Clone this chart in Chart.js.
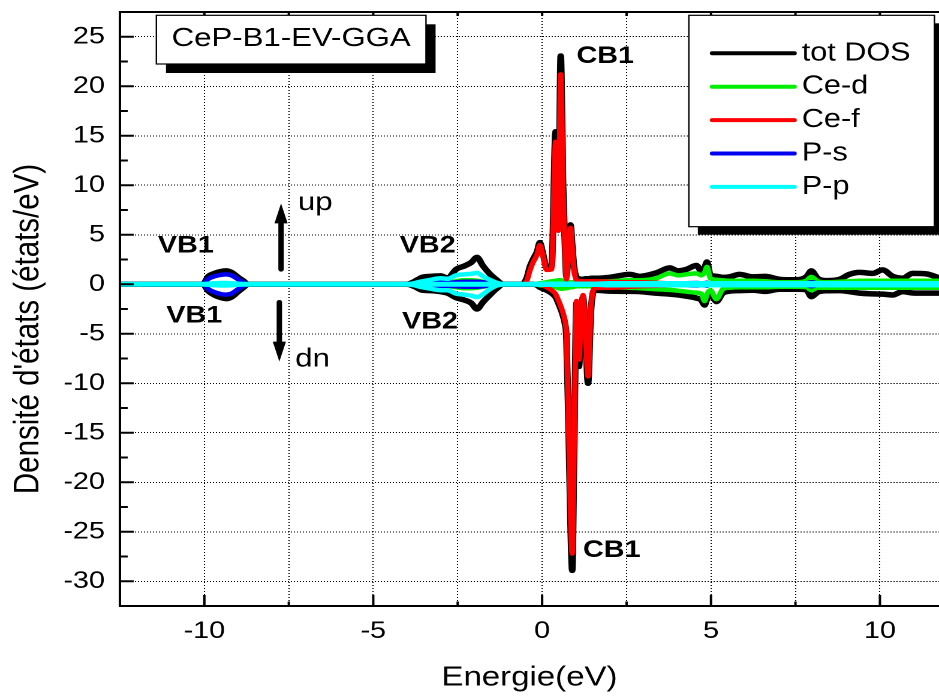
<!DOCTYPE html>
<html lang="fr">
<head>
    <meta charset="UTF-8">
    <title>CeP-B1-EV-GGA - DOS</title>
    <script src="https://cdn.jsdelivr.net/npm/chart.js"></script>
    <style>
        html, body {
            margin: 0;
            padding: 0;
            background: #fff;
            overflow: hidden;
        }
        /* the original figure is stretched sideways: draw narrower, then widen */
        #wrap {
            width: 783px;
            height: 698px;
            transform: scaleX(1.19923);
            transform-origin: 0 0;
        }
    </style>
</head>
<body>
<div id="wrap"><canvas id="dosChart" width="783" height="698"></canvas></div>
<script>
    const FONT = "'Liberation Sans', Arial, sans-serif";

    const xRange = [-12.5, 11.75];
    const yRange = [-32.5, 27.5];
    const xGridTicks = [-10, -7.5, -5, -2.5, 0, 2.5, 5, 7.5, 10];
    const xTickLabels = [-10, -5, 0, 5, 10];
    const xMinorTicks = [-7.5, -2.5, 2.5, 7.5];
    const yTicks = [-30, -25, -20, -15, -10, -5, 0, 5, 10, 15, 20, 25];
    const yMinorTicks = [-27.5, -22.5, -17.5, -12.5, -7.5, -2.5, 2.5, 7.5, 12.5, 17.5, 22.5];

    // energy mesh (eV), shared by all curves
    const energy = [
        -12.5,
        -10.05, -9.88, -9.7, -9.5, -9.35, -9.2, -9.0, -8.85, -8.7,
        -4.0, -3.8, -3.55, -3.3, -3.0, -2.8, -2.55, -2.3, -2.1, -1.93, -1.75, -1.55, -1.35, -1.15,
        -0.6, -0.46, -0.36, -0.27, -0.15, -0.07, 0.03, 0.13, 0.28, 0.40, 0.48, 0.55, 0.62, 0.67, 0.72,
        0.78, 0.84, 0.89, 0.95, 1.02, 1.09, 1.15, 1.21, 1.28, 1.36, 1.44, 1.55,
        2.0, 2.59, 2.89, 3.38, 3.78, 4.02, 4.27, 4.57, 4.71, 4.81, 4.88, 4.98, 5.16, 5.35, 5.55, 5.84,
        6.24, 6.6, 7.03, 7.52, 7.82, 7.97, 8.16, 8.41, 8.8, 9.1, 9.39, 9.79, 10.08, 10.38, 10.67,
        10.97, 11.37, 11.75
    ];

    const totUp = [
        0,
        0, 0.8, 1.1, 1.3, 1.35, 1.2, 0.7, 0.35, 0,
        0, 0.25, 0.7, 0.8, 0.85, 0.62, 1.5, 1.85, 2.2, 2.72, 1.85, 1.05, 0.45, 0,
        0, 0.6, 1.8, 2.5, 3.3, 4.2, 3.0, 1.7, 1.8, 15.4, 5.8, 23.05, 10, 4.5, 0.8,
        3.5, 6.0, 4.0, 1.6, 0.7, 0.55, 0.5, 0.5, 0.55, 0.55, 0.6, 0.6,
        0.7, 1.0, 0.8, 1.15, 1.65, 1.35, 1.5, 1.9, 1.35, 1.7, 2.25, 0.95, 0.8, 0.7, 0.75, 1.0,
        0.75, 0.8, 0.5, 0.45, 0.75, 1.35, 0.6, 0.37, 0.5, 1.0, 1.2, 1.1, 1.45, 0.8, 0.6,
        1.1, 1.05, 0.65
    ];
    const totDn = [
        0,
        0, -0.7, -1.1, -1.35, -1.45, -1.3, -0.75, -0.35, 0,
        0, -0.2, -0.6, -0.65, -0.75, -0.9, -1.35, -1.6, -1.9, -2.5, -1.8, -1.1, -0.45, 0,
        0, 0, 0, 0, -0.1, -0.3, -0.45, -0.6, -0.9, -1.3, -1.9, -2.5, -3.2, -3.9, -5.5,
        -14, -24, -28.9, -16, -1.9, -8.3, -4, -1.3, -5, -10, -3, -0.6,
        -0.7, -0.72, -0.74, -0.9, -1.0, -1.08, -1.2, -1.4, -1.6, -2.1, -1.5, -0.9, -1.75, -0.9, -0.7, -0.64,
        -0.6, -0.72, -0.5, -0.5, -0.55, -1.25, -0.8, -0.66, -0.64, -0.75, -0.9, -0.97, -1.0, -1.08, -0.74,
        -0.88, -0.9, -0.9
    ];
    const ceDUp = [
        0,
        0, 0, 0, 0, 0, 0, 0, 0, 0,
        0, 0, 0, 0.05, 0.1, 0.15, 0.3, 0.4, 0.4, 0.35, 0.25, 0.1, 0.05, 0,
        0, 0, 0, 0, 0.05, 0.1, 0.15, 0.2, 0.3, 0.35, 0.4, 0.4, 0.35, 0.3, 0.25,
        0.2, 0.2, 0.2, 0.2, 0.2, 0.2, 0.2, 0.2, 0.2, 0.2, 0.2, 0.25,
        0.3, 0.4, 0.4, 0.6, 1.1, 0.9, 1.0, 1.1, 0.9, 1.2, 1.75, 0.6, 0.45, 0.4, 0.35, 0.35,
        0.35, 0.3, 0.2, 0.2, 0.35, 0.75, 0.3, 0.2, 0.25, 0.3, 0.35, 0.35, 0.35, 0.35, 0.35,
        0.35, 0.35, 0.35
    ];
    const ceDDn = [
        0,
        0, 0, 0, 0, 0, 0, 0, 0, 0,
        0, 0, 0, -0.05, -0.1, -0.15, -0.3, -0.4, -0.4, -0.35, -0.25, -0.1, -0.05, 0,
        0, 0, 0, 0, -0.05, -0.1, -0.15, -0.2, -0.25, -0.3, -0.4, -0.45, -0.45, -0.4, -0.4,
        -0.35, -0.3, -0.3, -0.25, -0.2, -0.2, -0.2, -0.2, -0.2, -0.2, -0.2, -0.25,
        -0.3, -0.35, -0.4, -0.5, -0.57, -0.65, -0.75, -0.85, -0.95, -1.7, -1.0, -0.6, -1.5, -0.5, -0.35, -0.3,
        -0.3, -0.3, -0.25, -0.25, -0.3, -0.6, -0.35, -0.35, -0.35, -0.35, -0.35, -0.35, -0.35, -0.35, -0.35,
        -0.35, -0.35, -0.35
    ];
    const ceFUp = [
        0,
        0, 0, 0, 0, 0, 0, 0, 0, 0,
        0, 0, 0, 0, 0.05, 0.1, 0.15, 0.2, 0.2, 0.15, 0.1, 0.05, 0, 0,
        0, 0.3, 1.4, 2.2, 3.0, 3.95, 2.8, 1.45, 1.5, 14.4, 5.4, 21.2, 9.2, 4.0, 0.5,
        3.2, 5.7, 3.7, 1.3, 0.4, 0.3, 0.3, 0.3, 0.3, 0.3, 0.3, 0.3,
        0.25, 0.2, 0.2, 0.15, 0.1, 0.1, 0.1, 0.1, 0.1, 0.1, 0.1, 0.1, 0.1, 0.1, 0.1, 0.1,
        0.1, 0.1, 0.1, 0.1, 0.1, 0.1, 0.1, 0.1, 0.1, 0.1, 0.1, 0.1, 0.1, 0.1, 0.1,
        0.1, 0.1, 0.1
    ];
    const ceFDn = [
        0,
        0, 0, 0, 0, 0, 0, 0, 0, 0,
        0, 0, 0, 0, -0.05, -0.1, -0.15, -0.2, -0.2, -0.15, -0.1, -0.05, 0, 0,
        0, 0, 0, 0, 0, -0.05, -0.1, -0.3, -0.6, -1.0, -1.6, -2.2, -2.9, -3.6, -5.2,
        -13.5, -23, -27.2, -15.5, -1.7, -7.6, -3.7, -1.1, -4.7, -9.3, -2.7, -0.4,
        -0.35, -0.25, -0.2, -0.15, -0.1, -0.1, -0.1, -0.1, -0.1, -0.1, -0.1, -0.1, -0.1, -0.1, -0.1, -0.1,
        -0.1, -0.1, -0.1, -0.1, -0.1, -0.1, -0.1, -0.1, -0.1, -0.1, -0.1, -0.1, -0.1, -0.1, -0.1,
        -0.1, -0.1, -0.1
    ];
    const psUp = [
        0,
        0, 0.55, 0.8, 0.95, 1.0, 0.9, 0.5, 0.2, 0,
        0, 0, 0.05, 0.1, 0.15, 0.15, 0.2, 0.25, 0.25, 0.25, 0.2, 0.1, 0.05, 0,
        0, 0, 0, 0, 0, 0, 0, 0, 0, 0, 0, 0, 0, 0, 0,
        0, 0, 0, 0, 0, 0, 0, 0, 0, 0, 0, 0,
        0.05, 0.05, 0.05, 0.05, 0.08, 0.08, 0.1, 0.12, 0.1, 0.12, 0.15, 0.08, 0.08, 0.05, 0.05, 0.05,
        0.05, 0.05, 0.05, 0.05, 0.08, 0.2, 0.08, 0.05, 0.05, 0.05, 0.05, 0.05, 0.05, 0.05, 0.05,
        0.05, 0.05, 0.05
    ];
    const psDn = [
        0,
        0, -0.5, -0.8, -1.0, -1.05, -0.95, -0.5, -0.2, 0,
        0, 0, -0.05, -0.1, -0.15, -0.15, -0.2, -0.25, -0.25, -0.25, -0.2, -0.1, -0.05, 0,
        0, 0, 0, 0, 0, 0, 0, 0, 0, 0, 0, 0, 0, 0, 0,
        0, 0, 0, 0, 0, 0, 0, 0, 0, 0, 0, 0,
        -0.05, -0.05, -0.05, -0.05, -0.08, -0.08, -0.1, -0.12, -0.1, -0.12, -0.15, -0.08, -0.08, -0.05, -0.05, -0.05,
        -0.05, -0.05, -0.05, -0.05, -0.08, -0.2, -0.08, -0.05, -0.05, -0.05, -0.05, -0.05, -0.05, -0.05, -0.05,
        -0.05, -0.05, -0.05
    ];
    const ppUp = [
        0,
        0, 0.05, 0.1, 0.12, 0.12, 0.1, 0.05, 0, 0,
        0, 0.1, 0.3, 0.45, 0.6, 0.55, 0.9, 1.0, 1.05, 1.15, 0.8, 0.45, 0.15, 0,
        0, 0, 0, 0, 0, 0.05, 0.05, 0.05, 0.05, 0.05, 0.05, 0.05, 0.05, 0.05, 0.05,
        0.05, 0.05, 0.05, 0.05, 0.05, 0.05, 0.05, 0.05, 0.05, 0.05, 0.05, 0.05,
        0.1, 0.1, 0.1, 0.1, 0.1, 0.1, 0.1, 0.1, 0.1, 0.1, 0.1, 0.1, 0.1, 0.1, 0.1, 0.1,
        0.1, 0.1, 0.1, 0.1, 0.1, 0.1, 0.1, 0.1, 0.1, 0.1, 0.1, 0.1, 0.1, 0.1, 0.1,
        0.1, 0.1, 0.1
    ];
    const ppDn = [
        0,
        0, -0.05, -0.1, -0.12, -0.12, -0.1, -0.05, 0, 0,
        0, -0.1, -0.3, -0.45, -0.6, -0.6, -0.95, -1.05, -1.15, -1.3, -1.0, -0.5, -0.15, 0,
        0, 0, 0, 0, 0, -0.05, -0.05, -0.05, -0.05, -0.05, -0.05, -0.05, -0.05, -0.05, -0.05,
        -0.05, -0.05, -0.05, -0.05, -0.05, -0.05, -0.05, -0.05, -0.05, -0.05, -0.05, -0.05,
        -0.1, -0.1, -0.1, -0.1, -0.1, -0.1, -0.1, -0.1, -0.1, -0.1, -0.1, -0.1, -0.1, -0.1, -0.1, -0.1,
        -0.1, -0.1, -0.1, -0.1, -0.1, -0.1, -0.1, -0.1, -0.1, -0.1, -0.1, -0.1, -0.1, -0.1, -0.1,
        -0.1, -0.1, -0.1
    ];
    // zero reference line, drawn over the curves
    const zeroLine = [0, 0];

    const seriesNames = ['tot DOS', 'Ce-d', 'Ce-f', 'P-s', 'P-p'];
    const seriesColors = ['#000000', '#00ee00', '#ff0000', '#0000ee', '#00ffff'];
    const upValues = [totUp, ceDUp, ceFUp, psUp, ppUp];
    const dnValues = [totDn, ceDDn, ceFDn, psDn, ppDn];

    const bandLabels = [
        { text: 'VB1', x: -10.55, y: 3.9 },
        { text: 'VB1', x: -10.3, y: -3.2 },
        { text: 'VB2', x: -3.39, y: 3.9 },
        { text: 'VB2', x: -3.32, y: -3.8 },
        { text: 'CB1', x: 1.87, y: 23.0 },
        { text: 'CB1', x: 2.06, y: -26.9 }
    ];
    const spinArrows = [
        { text: 'up', x: -7.73, from: 1.5, to: 8.17, textX: -7.23, textY: 7.5 },
        { text: 'dn', x: -7.78, from: -1.82, to: -7.81, textX: -7.31, textY: -8.31 }
    ];

    // Build datasets: lower "order" is painted on top
    const datasets = [];
    seriesNames.forEach((name, i) => {
        [upValues[i], dnValues[i]].forEach(vals => {
            datasets.push({
                label: name,
                data: energy.map((e, k) => ({ x: e, y: vals[k] })),
                borderColor: seriesColors[i],
                borderWidth: i === 0 ? 5.5 : 4.5,
                order: seriesNames.length - i
            });
        });
    });
    datasets.push({
        label: '',
        data: xRange.map((e, k) => ({ x: e, y: zeroLine[k] })),
        borderColor: seriesColors[4],
        borderWidth: 5,
        order: 0
    });

    // frame, inward tick marks and top border
    const frameTicks = {
        id: 'frameTicks',
        afterDatasetsDraw(chart) {
            const { ctx, chartArea: a, scales: { x, y } } = chart;
            ctx.save();
            ctx.strokeStyle = '#000';
            ctx.lineWidth = 2;
            ctx.beginPath();
            ctx.moveTo(a.left, a.top);
            ctx.lineTo(a.right + 2, a.top);
            ctx.moveTo(a.left, a.top - 1);
            ctx.lineTo(a.left, a.bottom);
            ctx.lineTo(a.right + 2, a.bottom);
            yTicks.forEach(v => {
                const p = y.getPixelForValue(v);
                ctx.moveTo(a.left, p);
                ctx.lineTo(a.left + 11.5, p);
            });
            yMinorTicks.forEach(v => {
                const p = y.getPixelForValue(v);
                ctx.moveTo(a.left, p);
                ctx.lineTo(a.left + 6.5, p);
            });
            xTickLabels.forEach(v => {
                const p = x.getPixelForValue(v);
                ctx.moveTo(p, a.bottom);
                ctx.lineTo(p, a.bottom - 11);
            });
            xMinorTicks.forEach(v => {
                const p = x.getPixelForValue(v);
                ctx.moveTo(p, a.bottom);
                ctx.lineTo(p, a.bottom - 4.5);
            });
            xGridTicks.forEach(v => {
                const p = x.getPixelForValue(v);
                ctx.moveTo(p, a.top);
                ctx.lineTo(p, a.top + 4);
            });
            ctx.stroke();
            ctx.restore();
        }
    };

    // title box, legend box, band labels, spin arrows, y axis title
    const annotations = {
        id: 'annotations',
        afterDatasetsDraw(chart) {
            const { ctx, chartArea: a, scales: { x, y } } = chart;
            ctx.save();
            ctx.fillStyle = '#000';
            ctx.strokeStyle = '#000';

            ctx.font = 'bold 24px ' + FONT;
            ctx.textAlign = 'center';
            ctx.textBaseline = 'middle';
            bandLabels.forEach(l => {
                ctx.fillText(l.text, x.getPixelForValue(l.x), y.getPixelForValue(l.y));
            });

            spinArrows.forEach(s => {
                const px = x.getPixelForValue(s.x);
                const p0 = y.getPixelForValue(s.from);
                const p1 = y.getPixelForValue(s.to);
                const dir = Math.sign(p1 - p0);
                const base = p1 - dir * 20;
                ctx.lineWidth = 4.5;
                ctx.lineCap = 'round';
                ctx.beginPath();
                ctx.moveTo(px, p0);
                ctx.lineTo(px, base);
                ctx.stroke();
                ctx.beginPath();
                ctx.moveTo(px, p1);
                ctx.lineTo(px - 5.5, base);
                ctx.lineTo(px + 5.5, base);
                ctx.closePath();
                ctx.fill();
                ctx.font = '26px ' + FONT;
                ctx.textAlign = 'left';
                ctx.textBaseline = 'alphabetic';
                ctx.fillText(s.text, x.getPixelForValue(s.textX), y.getPixelForValue(s.textY));
            });

            // title box with drop shadow
            const tb = { left: a.left + 30.4, top: a.top + 3.3, w: 224.8, h: 48.7 };
            ctx.fillStyle = '#000';
            ctx.fillRect(tb.left + 8, tb.top + 9, tb.w, tb.h);
            ctx.fillStyle = '#fff';
            ctx.fillRect(tb.left, tb.top, tb.w, tb.h);
            ctx.lineWidth = 1.2;
            ctx.strokeRect(tb.left, tb.top, tb.w, tb.h);
            ctx.fillStyle = '#000';
            ctx.font = '26px ' + FONT;
            ctx.textAlign = 'center';
            ctx.textBaseline = 'middle';
            ctx.fillText('CeP-B1-EV-GGA', tb.left + tb.w / 2, tb.top + tb.h / 2 - 1);

            // legend box with drop shadow
            const lb = { left: a.right - 208.6, top: a.top + 3.3, w: 204.8, h: 211.4 };
            ctx.fillRect(lb.left + 7.5, lb.top + 8, lb.w, lb.h);
            ctx.fillStyle = '#fff';
            ctx.fillRect(lb.left, lb.top, lb.w, lb.h);
            ctx.strokeRect(lb.left, lb.top, lb.w, lb.h);
            ctx.font = '25.5px ' + FONT;
            ctx.textAlign = 'left';
            seriesNames.forEach((name, i) => {
                const ry = lb.top + 38 + i * 33.4;
                ctx.strokeStyle = seriesColors[i];
                ctx.lineWidth = 4;
                ctx.lineCap = 'round';
                ctx.beginPath();
                ctx.moveTo(lb.left + 19.5, ry);
                ctx.lineTo(lb.left + 88, ry);
                ctx.stroke();
                ctx.fillStyle = '#000';
                ctx.fillText(name, lb.left + 94.2, ry);
            });

            // y axis title
            ctx.translate(31.9, 329);
            ctx.rotate(-Math.PI / 2);
            ctx.font = '29.5px ' + FONT;
            ctx.textAlign = 'center';
            ctx.textBaseline = 'alphabetic';
            ctx.fillStyle = '#000';
            ctx.fillText("Densité d'états (états/eV)", 0, 0);
            ctx.restore();
        }
    };

    Chart.defaults.font.family = FONT;
    Chart.defaults.color = '#000';

    new Chart(document.getElementById('dosChart'), {
        type: 'line',
        data: { datasets },
        options: {
            responsive: false,
            maintainAspectRatio: false,
            devicePixelRatio: 2,
            animation: false,
            layout: { autoPadding: false, padding: { top: 12, right: 0, bottom: 0, left: 0 } },
            elements: {
                point: { radius: 0 },
                line: {
                    cubicInterpolationMode: 'monotone',
                    borderJoinStyle: 'round',
                    borderCapStyle: 'round'
                }
            },
            plugins: {
                legend: { display: false },
                tooltip: { enabled: false }
            },
            scales: {
                x: {
                    type: 'linear',
                    min: xRange[0],
                    max: xRange[1],
                    afterBuildTicks: s => { s.ticks = xGridTicks.map(v => ({ value: v })); },
                    afterFit: s => {
                        s.height = 92;
                        s.paddingLeft = 0;
                        s.paddingRight = 0;
                    },
                    grid: { color: '#000', lineWidth: 1, drawTicks: false },
                    border: { display: false, dash: [1, 2] },
                    ticks: {
                        padding: 11,
                        font: { size: 24 },
                        maxRotation: 0,
                        autoSkip: false,
                        callback: v => xTickLabels.includes(v) ? String(v) : ''
                    },
                    title: {
                        display: true,
                        text: 'Energie(eV)',
                        font: { size: 27.5 },
                        padding: { top: 0, bottom: 3.5 }
                    }
                },
                y: {
                    type: 'linear',
                    min: yRange[0],
                    max: yRange[1],
                    afterBuildTicks: s => { s.ticks = yTicks.map(v => ({ value: v })); },
                    afterFit: s => {
                        s.width = 100;
                        s.paddingTop = 0;
                        s.paddingBottom = 0;
                    },
                    grid: { color: '#000', lineWidth: 1, drawTicks: false },
                    border: { display: false, dash: [1, 1.5] },
                    ticks: {
                        padding: 12.5,
                        font: { size: 24 },
                        autoSkip: false,
                        callback: v => String(v)
                    }
                }
            }
        },
        plugins: [frameTicks, annotations]
    });
</script>
</body>
</html>
